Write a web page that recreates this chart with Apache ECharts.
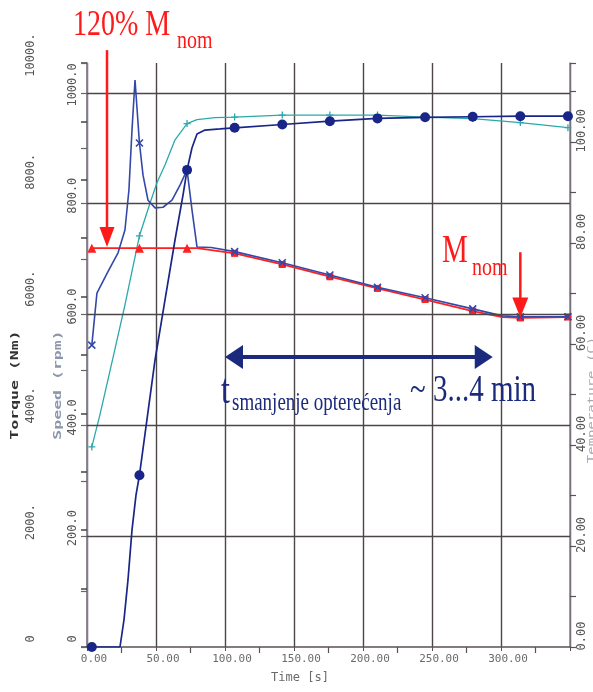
<!DOCTYPE html>
<html><head><meta charset="utf-8">
<script src="https://cdn.jsdelivr.net/npm/echarts@6/dist/echarts.min.js"></script>
<style>html,body{margin:0;padding:0;background:#fff}#c{width:593px;height:692px}</style>
</head><body><div id="c"></div>
<script>
// ---- data (time in s) ----
const markTimes = [3.5, 38, 72.5, 107, 141.5, 176, 210.5, 245, 279.5, 314, 348.5];

const torqueTime = [3.5, 7.2, 15, 22.5, 27.5, 30.4, 32.6, 34.8, 38, 40.6, 44.2, 49.3, 55.1, 61.6, 67.4, 72.5, 76.1, 79.7, 90, 107, 141.5, 176, 210.5, 245, 279.5, 301, 314, 348.5];
const torqueNm   = [5170, 6060, 6420, 6750, 7140, 7830, 8850, 9710, 8630, 8080, 7650, 7520, 7530, 7650, 7910, 8170, 7480, 6850, 6840, 6770, 6580, 6370, 6160, 5980, 5790, 5670, 5655, 5655];

const loadTime = [3.5, 38, 72.5, 79.7, 107, 141.5, 176, 210.5, 245, 279.5, 301, 314, 348.5];
const loadNm   = [6830, 6830, 6830, 6830, 6740, 6550, 6340, 6140, 5950, 5750, 5650, 5635, 5650];

const speedTime = [3.5, 23.9, 26.8, 29.7, 32.6, 35.5, 38, 49.3, 56.5, 63.8, 69.6, 72.5, 76.1, 79.7, 85.5, 96.4, 107, 141.5, 176, 210.5, 245, 279.5, 314, 348.5];
const speedRpm  = [0, 0, 49, 121, 211, 274, 310, 518, 626, 735, 816, 861, 901, 926, 933, 935, 937, 943, 949, 954, 956, 957, 958, 958];

const tempTime = [3.5, 9.4, 18.1, 27.5, 38, 45.7, 50.7, 56.5, 63.8, 72.5, 79.7, 92.8, 107, 141.5, 176, 210.5, 245, 279.5, 314, 348.5];
const tempC    = [39.6, 46, 56.4, 67.7, 81.4, 87.9, 91.9, 95.4, 100.4, 103.6, 104.4, 104.8, 104.9, 105.3, 105.3, 105.3, 104.9, 104.6, 103.8, 102.8];

const timeTicks   = [0, 50, 100, 150, 200, 250, 300];
const torqueTicks = [0, 2000, 4000, 6000, 8000, 10000];
const speedTicks  = [0, 200, 400, 600, 800, 1000];
const tempTicks   = [0, 20, 40, 60, 80, 100];

// ---- styles ----
const GRID = '#4d4646';
const AX = '#8a8090';
const LBL = '#555';
const MONO = '"DejaVu Sans Mono", monospace';
const SERIF = '"Liberation Serif", "Times New Roman", serif';
const C_TORQUE = '#3448aa', C_LOAD = '#ff2020', C_SPEED = '#1a2588', C_TEMP = '#2aa9aa';
const X_PATH = 'path://M0,0L10,10M10,0L0,10';
const PLUS_PATH = 'path://M5,0L5,10M0,5L10,5';

function build(ts, vs, mk) {
  return ts.map((t, i) => {
    const k = markTimes.indexOf(t);
    if (k >= 0 && mk(k)) return Object.assign({ value: [t, vs[i]] }, mk(k));
    return { value: [t, vs[i]], symbol: 'none' };
  });
}

const chart = echarts.init(document.getElementById('c'));

const baseLine = (name, yIdx, color, width, data, z, itemStyle) => ({
  name, type: 'line', yAxisIndex: yIdx, data, z,
  showSymbol: true, showAllSymbol: true, smooth: false,
  lineStyle: { color, width }, itemStyle,
  emphasis: { disabled: true }, silent: true, animation: false
});

const option = {
  animation: false,
  backgroundColor: '#ffffff',
  grid: { left: 87, right: 23, top: 63, bottom: 45 },
  xAxis: {
    type: 'value', min: 0, max: 350, interval: 50,
    axisLine: { lineStyle: { color: '#5a5252', width: 1.5 } },
    axisTick: { show: true, length: 4, lineStyle: { color: '#5a5252' } },
    minorTick: { show: true, splitNumber: 2, length: 6, lineStyle: { color: '#5a5252', width: 1.2 } },
    splitLine: { show: true, lineStyle: { color: GRID, width: 1.4 } },
    axisLabel: {
      formatter: v => timeTicks.includes(v) ? v.toFixed(2) : '',
      fontFamily: MONO, fontSize: 11, color: '#6a6a6a', margin: 7, padding: [0, 0, 0, 14]
    }
  },
  yAxis: [
    {
      type: 'value', position: 'left', offset: 42, min: 0, max: 10000, interval: 1000,
      axisLine: { show: true, lineStyle: { color: AX, width: 1.5 } },
      axisTick: { show: true, length: 6, lineStyle: { color: '#444', width: 1.5 } },
      splitLine: { show: false },
      axisLabel: {
        rotate: 90, margin: 8, fontFamily: MONO, fontSize: 12, color: LBL, padding: [0, 0, 0, 16],
        formatter: v => v === 0 ? '0' : (torqueTicks.includes(v) ? v + '.' : '')
      }
    },
    {
      type: 'value', position: 'left', offset: 0, min: 0, max: 1054, interval: 100,
      axisLine: { show: true, lineStyle: { color: AX, width: 1.5 } },
      axisTick: { show: true, length: 6, lineStyle: { color: '#666', width: 1.2 } },
      splitLine: { show: false },
      axisLabel: {
        rotate: 90, margin: 8, fontFamily: MONO, fontSize: 12, color: LBL, padding: [0, 0, 0, 16],
        formatter: v => v === 0 ? '0' : (speedTicks.includes(v) ? v.toFixed(1) : '')
      }
    },
    {
      type: 'value', position: 'right', offset: 0, min: 0, max: 115.6, interval: 10,
      axisLine: { show: true, lineStyle: { color: AX, width: 1.5 } },
      axisTick: { show: true, length: 6, lineStyle: { color: '#555', width: 1.2 } },
      splitLine: { show: false },
      axisLabel: {
        rotate: 90, margin: 6, fontFamily: MONO, fontSize: 12, color: LBL, padding: [0, 0, 0, 22],
        formatter: v => tempTicks.includes(v) ? v.toFixed(2) : ''
      }
    }
  ],
  series: [
    {
      type: 'line', yAxisIndex: 1, data: [], z: 1, silent: true,
      markLine: {
        silent: true, symbol: ['none', 'none'], label: { show: false }, animation: false,
        lineStyle: { color: GRID, width: 1.4, type: 'solid' },
        emphasis: { disabled: true },
        data: speedTicks.filter(v => v > 0).map(v => ({ yAxis: v }))
      }
    },
    baseLine('Temperature', 2, C_TEMP, 1.3,
      build(tempTime, tempC, () => ({ symbol: PLUS_PATH, symbolSize: 7 })), 2,
      { color: 'rgba(0,0,0,0)', borderColor: C_TEMP, borderWidth: 1.3 }),
    baseLine('Load', 0, C_LOAD, 1.8,
      build(loadTime, loadNm, k => k <= 2 ? { symbol: 'triangle', symbolSize: 9 } : { symbol: 'rect', symbolSize: 7 }), 3,
      { color: C_LOAD }),
    baseLine('Torque', 0, C_TORQUE, 1.6,
      build(torqueTime, torqueNm, () => ({ symbol: X_PATH, symbolSize: 7 })), 4,
      { color: 'rgba(0,0,0,0)', borderColor: C_TORQUE, borderWidth: 1.6 }),
    baseLine('Speed', 1, C_SPEED, 1.7,
      build(speedTime, speedRpm, () => ({ symbol: 'circle', symbolSize: 10 })), 5,
      { color: C_SPEED })
  ]
};
chart.setOption(option);

// ---- annotations ----
const px = (t, v) => chart.convertToPixel({ xAxisIndex: 0, yAxisIndex: 0 }, [t, v]);
const RED = '#ff1a1a', NAVY = '#1b2a7c';
function downArrow(t, vTop, vTip, color, lw, hl, hw) {
  const a = px(t, vTop), b = px(t, vTip);
  return [
    { type: 'line', z: 50, silent: true, shape: { x1: a[0], y1: a[1], x2: b[0], y2: b[1] - hl + 2 }, style: { stroke: color, lineWidth: lw } },
    { type: 'polygon', z: 50, silent: true, shape: { points: [[b[0] - hw, b[1] - hl], [b[0] + hw, b[1] - hl], [b[0], b[1]]] }, style: { fill: color } }
  ];
}
function dblArrow(t1, t2, v, color, lw, hl, hw) {
  const a = px(t1, v), b = px(t2, v);
  return [
    { type: 'line', z: 50, silent: true, shape: { x1: a[0] + hl - 2, y1: a[1], x2: b[0] - hl + 2, y2: b[1] }, style: { stroke: color, lineWidth: lw } },
    { type: 'polygon', z: 50, silent: true, shape: { points: [[a[0], a[1]], [a[0] + hl, a[1] - hw], [a[0] + hl, a[1] + hw]] }, style: { fill: color } },
    { type: 'polygon', z: 50, silent: true, shape: { points: [[b[0], b[1]], [b[0] - hl, b[1] - hw], [b[0] - hl, b[1] + hw]] }, style: { fill: color } }
  ];
}
function txt(text, x, y, font, fill, opts) {
  return Object.assign({ type: 'text', z: 60, silent: true, x, y,
    style: { text, font, fill, align: 'left', verticalAlign: 'middle' } }, opts || {});
}
const graphics = [].concat(
  downArrow(14.5, 10220, 6850, RED, 2.5, 20, 7.5),
  downArrow(314, 6760, 5640, RED, 2.5, 20, 8),
  dblArrow(100, 294, 4966, NAVY, 4, 18, 12),
  [
    txt('120% M', 73, 25, '28px ' + SERIF, RED, { scaleY: 1.3 }),
    txt('nom', 177, 41, '20px ' + SERIF, RED, { scaleY: 1.3 }),
    txt('M', 442, 252, '29px ' + SERIF, RED, { scaleY: 1.35 }),
    txt('nom', 472, 268, '20px ' + SERIF, RED, { scaleY: 1.3 }),
    txt('t', 221, 392, '32px ' + SERIF, NAVY, { scaleY: 1.3 }),
    txt('smanjenje opterećenja', 232, 404, '19px ' + SERIF, NAVY, { scaleY: 1.3 }),
    txt('~ 3...4 min', 410, 391, '29px ' + SERIF, NAVY, { scaleY: 1.3 }),
    { type: 'text', z: 60, silent: true, x: 15, y: 385, rotation: Math.PI / 2, scaleX: 1.5,
      style: { text: 'Torque (Nm)', font: 'bold 11px ' + MONO, fill: '#333', align: 'center', verticalAlign: 'middle' } },
    { type: 'text', z: 60, silent: true, x: 58, y: 385, rotation: Math.PI / 2, scaleX: 1.5,
      style: { text: 'Speed (rpm)', font: 'bold 11px ' + MONO, fill: '#8c96aa', align: 'center', verticalAlign: 'middle' } },
    { type: 'text', z: 60, silent: true, x: 592, y: 400, rotation: Math.PI / 2, scaleX: 1.4,
      style: { text: 'Temperature (C)', font: '10px ' + MONO, fill: '#a8a8b4', align: 'center', verticalAlign: 'middle' } },
    { type: 'text', z: 60, silent: true, x: 300, y: 678,
      style: { text: 'Time [s]', font: '12px ' + MONO, fill: '#6a6a6a', align: 'center', verticalAlign: 'middle' } }
  ]
);
chart.setOption({ graphic: graphics });
</script>
</body></html>
